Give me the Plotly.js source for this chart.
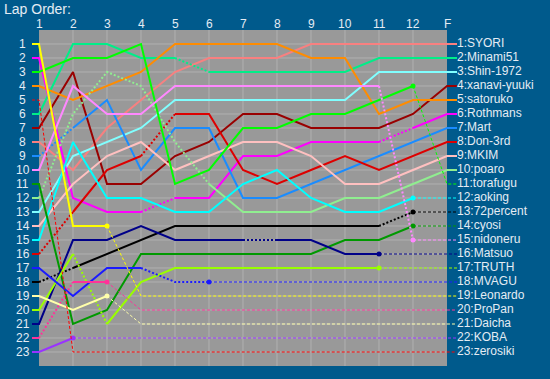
<!DOCTYPE html>
<html>
<head>
<meta charset="utf-8">
<script src="https://cdn.plot.ly/plotly-3.0.1.min.js"></script>
<style>html,body{margin:0;padding:0;background:#005a8c;}#chart{width:550px;height:379px;}</style>
</head>
<body>
<div id="chart"></div>
<script>
// ---- data ----
const laps = ['1','2','3','4','5','6','7','8','9','10','11','12','F'];
const ranks = [1,2,3,4,5,6,7,8,9,10,11,12,13,14,15,16,17,18,19,20,21,22,23];
const names = ['SYORI','Minami51','Shin-1972','xanavi-yuuki','satoruko','Rothmans','Mart','Don-3rd','MKIM','poaro','torafugu','aoking','72percent','cyosi','nidoneru','Matsuo','TRUTH','MVAGU','Leonardo','ProPan','Daicha','KOBA','zerosiki'];
const colors = ['#f88080','#00ee88','#80ffff','#990000','#ff8c00','#ff00ff','#1a8cff','#dd0000','#ffc0c0','#90ee90','#00ff00','#00ffff','#000000','#009900','#ff88ff','#000088','#99ff00','#1a1aff','#ffff00','#ff3399','#ffffaa','#9933ff','#ff0000'];

// position of each driver after every lap (1..12, F)
const posSYORI      = [8,10,7,5,3,2,2,2,1,1,1,1,1];
const posMinami51   = [6,1,1,2,2,3,3,3,3,3,2,2,2];
const posShin1972   = [13,9,8,7,5,5,5,5,5,5,3,3,3];
const posXanavi     = [7,3,11,11,9,8,6,6,7,7,7,6,4];
const posSatoruko   = [4,5,4,3,1,1,1,1,2,2,6,5,5];
const posRothmans   = [2,12,13,13,12,12,9,9,8,8,8,7,6];
const posMart       = [9,7,5,10,7,7,12,12,11,10,9,8,7];
const posDon3rd     = [16,13,10,9,6,6,10,11,10,9,10,9,8];
const posMKIM       = [14,11,9,8,10,9,8,8,9,11,11,10,9];
const posPoaro      = [12,6,3,4,8,11,13,13,13,12,12,11,10];
const posTorafugu   = [3,2,2,1,11,10,7,7,6,6,5,4,11];
const posAoking     = [15,8,12,12,13,13,11,10,12,13,13,12,12];
const pos72percent  = [18,17,16,15,14,14,14,14,14,14,14,13,13];
const posCyosi      = [11,21,20,16,16,16,16,16,16,15,15,14,14];
const posNidoneru   = [10,4,6,6,4,4,4,4,4,4,4,15,15];
const posMatsuo     = [21,15,15,14,15,15,15,15,15,16,16,16,16];
const posTRUTH      = [20,16,21,18,17,17,17,17,17,17,17,17,17];
const posMVAGU      = [17,19,17,17,18,18,18,18,18,18,18,18,18];
const posLeonardo   = [1,14,14,19,19,19,19,19,19,19,19,19,19];
const posProPan     = [22,18,18,20,20,20,20,20,20,20,20,20,20];
const posDaicha     = [19,20,19,21,21,21,21,21,21,21,21,21,21];
const posKOBA       = [23,22,22,22,22,22,22,22,22,22,22,22,22];
const posZerosiki   = [5,23,23,23,23,23,23,23,23,23,23,23,23];

// segment style between consecutive laps: s = solid, o = dotted, d = dashed (out)
const segStyles = ['ssssssssssss','ssssosssssss','ssssssssssss','ssssssssssss','ssssssssssss',
  'sssossssssos','osssssssssss','ossossssssss','ssssssssssss','ooooosssssss',
  'sssssssssssd','sssssssssssd','osssssssssod','sssssssssssd','ssssssssssod',
  'ssssssosssdd','sossssssssdd','sssooddddddd','ssdddddddddd','osdddddddddd',
  'ssdddddddddd','sddddddddddd','dddddddddddd'];

const positions = [posSYORI,posMinami51,posShin1972,posXanavi,posSatoruko,posRothmans,posMart,posDon3rd,posMKIM,posPoaro,posTorafugu,posAoking,pos72percent,posCyosi,posNidoneru,posMatsuo,posTRUTH,posMVAGU,posLeonardo,posProPan,posDaicha,posKOBA,posZerosiki];

// ---- layout constants ----
const PX = 34;                 // pixels per lap
const xMin = 1 - 8/PX, xMax = laps.length + 10/PX;
const stubL = 1 - 7/PX, stubR = xMax;
const txtColor = '#e4ecf4';
const fontFam = 'Liberation Sans, Arial, sans-serif';
const plotH = 336;

const lapX = laps.map((_, i) => i + 1);
const toPaperX = v => (v - xMin) / (xMax - xMin);

function lineStyle(c, color) {
  if (c === 'o') return {color: color, width: 2, dash: '2px,2px'};
  if (c === 'd') return {color: color, width: 1, dash: '3px,2px'};
  return {color: color, width: 2, dash: 'solid'};
}

const traces = [];
positions.forEach((p, i) => {
  const st = segStyles[i];
  const xs = [stubL].concat(lapX, [stubR]);
  const ys = [p[0]].concat(p, [p[p.length - 1]]);
  const segs = [st[0] === 'd' ? 'd' : 's'].concat(st.split(''), [st[st.length - 1]]);
  let start = 0;
  for (let k = 1; k <= segs.length; k++) {
    if (k === segs.length || segs[k] !== segs[start]) {
      traces.push({
        x: xs.slice(start, k + 1), y: ys.slice(start, k + 1),
        mode: 'lines', line: lineStyle(segs[start], colors[i]),
        hoverinfo: 'skip', showlegend: false
      });
      start = k;
    }
  }
  const mx = [], my = [];
  for (let k = 1; k < st.length; k++) {
    if (st[k] === 'd' && st[k - 1] !== 'd') { mx.push(lapX[k]); my.push(p[k]); }
  }
  if (mx.length) traces.push({x: mx, y: my, mode: 'markers', marker: {color: colors[i], size: 5}, hoverinfo: 'skip', showlegend: false});
});

// right-hand final order labels
traces.push({
  x: ranks.map(() => stubR), y: ranks, text: names.map((n, i) => ranks[i] + ':' + n),
  mode: 'text', textposition: 'middle right', cliponaxis: false,
  textfont: {family: fontFam, size: 12, color: txtColor}, hoverinfo: 'skip', showlegend: false
});

// left-hand start position labels (centered) and top lap labels
const annotations = ranks.map(r => ({
  xref: 'paper', yref: 'y', x: toPaperX(1 - 16.5/PX), y: r, text: String(r),
  showarrow: false, xanchor: 'center', yanchor: 'middle',
  font: {family: fontFam, size: 12, color: txtColor}
})).concat(lapX.map((x, i) => ({
  xref: 'x', yref: 'paper', x: x, y: 1 + 6/plotH, text: laps[i],
  showarrow: false, xanchor: 'center', yanchor: 'middle',
  font: {family: fontFam, size: 12, color: txtColor}
})));

const shapes = [{type: 'rect', xref: 'x', yref: 'y', x0: 1, x1: laps.length, y0: 0, y1: ranks.length + 1,
  fillcolor: '#999999', line: {width: 0}, layer: 'below'}];
lapX.slice(1, -1).forEach(x => shapes.push({type: 'line', xref: 'x', yref: 'y', x0: x, x1: x, y0: 0, y1: ranks.length + 1,
  line: {color: '#b0b0b0', width: 1}, layer: 'below'}));
ranks.forEach(r => shapes.push({type: 'line', xref: 'x', yref: 'y', x0: 1, x1: laps.length, y0: r, y1: r,
  line: {color: '#b0b0b0', width: 1}, layer: 'below'}));

const layout = {
  width: 550, height: 379,
  margin: {l: 31, r: 93, t: 30, b: 13, pad: 0},
  paper_bgcolor: '#005a8c', plot_bgcolor: '#005a8c',
  font: {family: fontFam, color: txtColor},
  title: {text: 'Lap Order:', font: {family: fontFam, size: 14, color: txtColor},
    x: 4/550, xanchor: 'left', xref: 'container', y: 1 - 9/379, yanchor: 'middle', yref: 'container'},
  xaxis: {range: [xMin, xMax], showgrid: false, zeroline: false, showticklabels: false, showline: false, fixedrange: true},
  yaxis: {range: [ranks.length + 1, 0], showgrid: false, zeroline: false, showticklabels: false, showline: false, fixedrange: true},
  shapes: shapes,
  annotations: annotations,
  showlegend: false
};

Plotly.newPlot('chart', traces, layout, {displayModeBar: false, staticPlot: true});
</script>
</body>
</html>
